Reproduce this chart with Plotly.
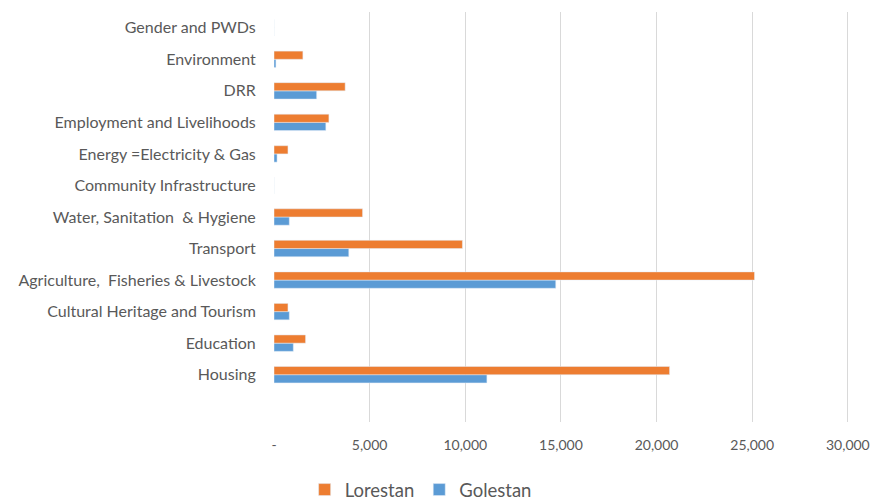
import plotly.graph_objects as go

categories = ["Housing", "Education", "Cultural Heritage and Tourism",
              "Agriculture,  Fisheries & Livestock", "Transport",
              "Water, Sanitation  & Hygiene", "Community Infrastructure",
              "Energy =Electricity & Gas", "Employment and Livelihoods",
              "DRR", "Environment", "Gender and PWDs"]
lorestan = [20680, 1650, 730, 25120, 9850, 4630, 0, 730, 2870, 3720, 1510, 0]
golestan = [11130, 1010, 800, 14730, 3910, 800, 0, 160, 2710, 2230, 100, 0]

tick_vals = [0, 5000, 10000, 15000, 20000, 25000, 30000]
tick_text = ["-", "5,000", "10,000", "15,000", "20,000", "25,000", "30,000"]

fig = go.Figure()
fig.add_trace(go.Bar(y=categories, x=golestan, name="Golestan", orientation="h",
                     marker=dict(color="#5B9BD5"), legendrank=2))
fig.add_trace(go.Bar(y=categories, x=lorestan, name="Lorestan", orientation="h",
                     marker=dict(color="#ED7D31"), legendrank=1))

fig.update_layout(
    width=874, height=501,
    margin=dict(l=274, r=25, t=12, b=79, autoexpand=False),
    barmode="group", bargap=0.48, bargroupgap=0,
    plot_bgcolor="white", paper_bgcolor="white",
    font=dict(family="Lato, Open Sans, sans-serif", color="#595959", size=16),
    showlegend=True,
    legend=dict(orientation="h", xref="paper", yref="paper",
                x=0.255, y=-0.166, xanchor="center", yanchor="middle",
                font=dict(size=18.5, color="#595959"),
                traceorder="normal"),
    xaxis=dict(range=[0, 30060], tickvals=tick_vals, ticktext=tick_text,
               showgrid=True, gridcolor="#D9D9D9", gridwidth=1,
               zeroline=False, showline=False, automargin=False,
               tickfont=dict(size=14),
               ticks="outside", ticklen=10, tickcolor="rgba(0,0,0,0)"),
    yaxis=dict(type="category", range=[-1.5, 11.5], showgrid=False,
               zeroline=False, showline=False, automargin=False,
               ticks="outside", ticklen=14, tickcolor="rgba(0,0,0,0)"),
)

fig.write_html("out.html",
               config={"displayModeBar": False},
               post_script="document.body.style.margin='0';"
                           "document.body.style.overflow='hidden';")
